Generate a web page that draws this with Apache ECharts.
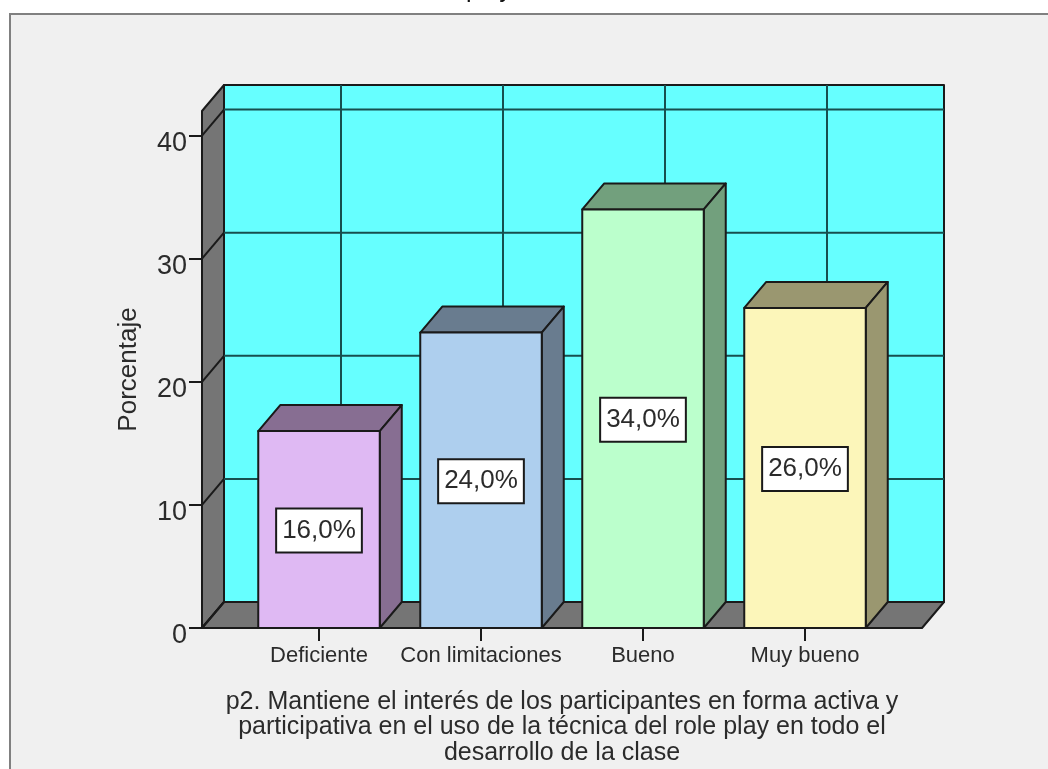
<!DOCTYPE html>
<html>
<head>
<meta charset="utf-8">
<title>p2</title>
<script src="https://cdn.jsdelivr.net/npm/echarts@6/dist/echarts.min.js"></script>
<style>
  html, body { margin: 0; padding: 0; background: #ffffff; }
  #chart { width: 1048px; height: 769px; }
</style>
</head>
<body>
<div id="chart"></div>
<script>
const categories = ['Deficiente', 'Con limitaciones', 'Bueno', 'Muy bueno']
const values = [16, 24, 34, 26]
const valueLabels = ['16,0%', '24,0%', '34,0%', '26,0%']
const yTicks = [0, 10, 20, 30, 40]
const faceColors = ['#dfb9f3', '#aecfee', '#bbffcc', '#fcf6ba']
const sideColors = ['#876e92', '#697c8f', '#72a07d', '#9a9770']
const xTitle = 'p2. Mantiene el interés de los participantes en forma activa y\nparticipativa en el uso de la técnica del role play en todo el\ndesarrollo de la clase'

const FONT = '"Liberation Sans", Arial, sans-serif'
const LINE = '#1a1a1a'
const TEXT = '#2b2b2b'
const GRID = '#174f4f'
const WALL = '#66ffff'
const GRAY = '#757575'
// depth of the fake 3D box, px
const DX = 22
const DY = 26
const PAD = 36
const Y_MAX = 42

const chart = echarts.init(document.getElementById('chart'))

const line = (x1, y1, x2, y2, color, width) => ({
  type: 'line',
  shape: { x1, y1, x2, y2 },
  style: { stroke: color || LINE, lineWidth: width || 2 }
})
const poly = (points, fill) => ({
  type: 'polygon',
  shape: { points },
  style: { fill, stroke: LINE, lineWidth: 2, lineJoin: 'round' }
})

// back wall, left wall, floor and their grid lines
const renderBox = (params, api) => {
  const rect = params.coordSys
  const left = rect.x - PAD
  const right = rect.x + rect.width + PAD
  const y0 = api.coord([0, 0])[1]
  const yTop = api.coord([0, Y_MAX])[1]
  const children = [
    poly([[left + DX, yTop - DY], [right + DX, yTop - DY], [right + DX, y0 - DY], [left + DX, y0 - DY]], WALL),
    poly([[left, y0], [left + DX, y0 - DY], [left + DX, yTop - DY], [left, yTop]], GRAY),
    poly([[left, y0], [left + DX, y0 - DY], [right + DX, y0 - DY], [right, y0]], GRAY)
  ]
  yTicks.forEach(t => {
    const y = api.coord([0, t])[1]
    children.push(line(left, y, left + DX, y - DY, LINE))
    if (t > 0) children.push(line(left + DX, y - DY, right + DX, y - DY, GRID))
  })
  categories.forEach((c, i) => {
    const x = api.coord([i, 0])[0] + DX
    children.push(line(x, yTop - DY, x, y0 - DY, GRID))
  })
  children.push(line(left, y0, right, y0, LINE))
  return { type: 'group', children }
}

// one box per bar: top, side, front, value label
const renderBar = (params, api) => {
  const i = api.value(0)
  const base = api.coord([i, 0])
  const top = api.coord([i, api.value(1)])
  const w = api.size([1, 0])[0] * 0.75
  const l = base[0] - w / 2
  const r = base[0] + w / 2
  const yt = top[1]
  const yb = base[1]
  return {
    type: 'group',
    children: [
      poly([[l, yt], [l + DX, yt - DY], [r + DX, yt - DY], [r, yt]], sideColors[i]),
      poly([[r, yt], [r + DX, yt - DY], [r + DX, yb - DY], [r, yb]], sideColors[i]),
      poly([[l, yt], [r, yt], [r, yb], [l, yb]], faceColors[i]),
      {
        type: 'text',
        x: base[0],
        y: (yt + yb) / 2 + 1,
        style: {
          text: valueLabels[i],
          font: '26px ' + FONT,
          fill: TEXT,
          align: 'center',
          verticalAlign: 'middle',
          backgroundColor: '#ffffff',
          borderColor: LINE,
          borderWidth: 2,
          padding: [9, 5, 7, 5]
        }
      }
    ]
  }
}

chart.setOption({
  backgroundColor: '#ffffff',
  animation: false,
  title: {
    // the chart title is cut off by the window, only the descenders show
    text: 'play',
    left: 466,
    top: -22,
    padding: 0,
    textStyle: { color: '#111111', fontFamily: FONT, fontSize: 25, fontWeight: 'normal' }
  },
  graphic: [{
    type: 'rect',
    z: -10,
    shape: { x: 10, y: 14, width: 1060, height: 780 },
    style: { fill: '#f0f0f0', stroke: '#808080', lineWidth: 2 }
  }],
  // outerBoundsMode off, otherwise the long axis name squeezes the grid
  grid: { left: 238, right: 162, top: 111, bottom: 141, containLabel: false, outerBoundsMode: 'none' },
  xAxis: {
    type: 'category',
    data: categories,
    axisLine: { show: false },
    axisTick: { show: true, alignWithLabel: true, length: 13, lineStyle: { color: LINE, width: 2 } },
    axisLabel: { color: TEXT, fontFamily: FONT, fontSize: 22, margin: 17, interval: 0, hideOverlap: false },
    splitLine: { show: false },
    name: xTitle,
    nameLocation: 'middle',
    nameGap: 61,
    nameTextStyle: { color: TEXT, fontFamily: FONT, fontSize: 25, lineHeight: 25.5, verticalAlign: 'top' }
  },
  yAxis: {
    type: 'value',
    min: 0,
    max: Y_MAX,
    interval: 10,
    offset: PAD,
    axisLine: { show: false },
    axisTick: { show: true, length: 13, lineStyle: { color: LINE, width: 2 } },
    axisLabel: {
      margin: 15,
      formatter: '{low|{value}}',
      rich: { low: { color: TEXT, fontFamily: FONT, fontSize: 27, padding: [16, 0, 0, 0] } }
    },
    splitLine: { show: false },
    name: 'Porcentaje',
    nameLocation: 'middle',
    nameGap: 60,
    nameTextStyle: { color: TEXT, fontFamily: FONT, fontSize: 26 }
  },
  series: [
    {
      type: 'custom',
      silent: true,
      clip: false,
      z: 1,
      data: [[0, 0]],
      renderItem: renderBox
    },
    {
      type: 'custom',
      clip: false,
      z: 2,
      encode: { x: 0, y: 1 },
      data: values.map((v, i) => [i, v]),
      renderItem: renderBar
    }
  ]
})

window.addEventListener('resize', () => chart.resize())
</script>
</body>
</html>
